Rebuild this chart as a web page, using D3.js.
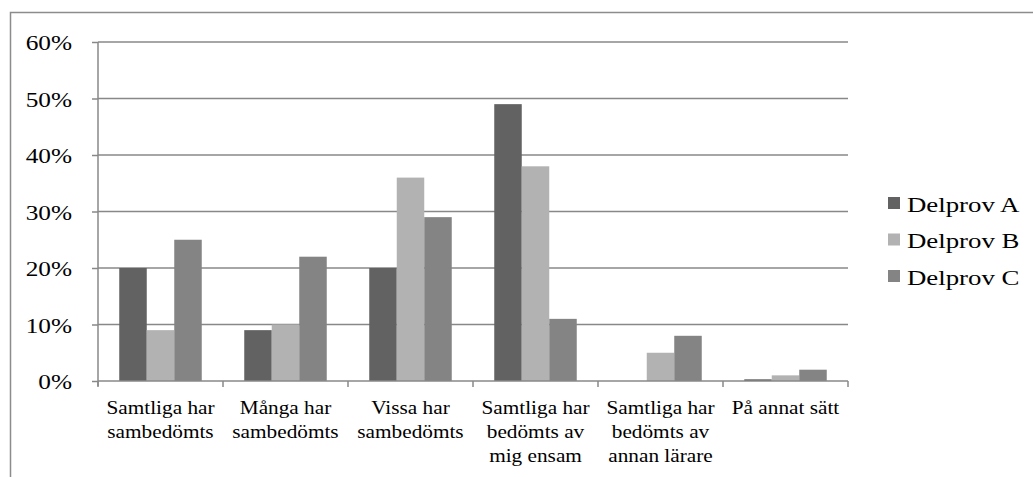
<!DOCTYPE html>
<html>
<head>
<meta charset="utf-8">
<script src="https://cdn.jsdelivr.net/npm/d3@7"></script>
<style>
  body { margin: 0; background: #fff; }
  svg text { font-family: "Liberation Serif", "DejaVu Serif", Tinos, "Times New Roman", Times, serif; fill: #000; }
</style>
</head>
<body>
<svg id="chart" width="1033" height="477"></svg>
<script>
// chart data
const categories = [
  ["Samtliga  har", "sambedömts"],
  ["Många har", "sambedömts"],
  ["Vissa har", "sambedömts"],
  ["Samtliga har", "bedömts av", "mig ensam"],
  ["Samtliga har", "bedömts av", "annan lärare"],
  ["På annat sätt"]
];
const series = ["Delprov A", "Delprov B", "Delprov C"];
const delprovA = [20, 9, 20, 49, 0, 0.3];
const delprovB = [9, 10, 36, 38, 5, 1];
const delprovC = [25, 22, 29, 11, 8, 2];
const yTicks = [0, 10, 20, 30, 40, 50, 60];
const colors = ["#626262", "#b2b2b2", "#848484"];

const values = [delprovA, delprovB, delprovC];
const serifFont = "'Liberation Serif', 'DejaVu Serif', Tinos, 'Times New Roman', Times, serif";

let svg = d3.select("#chart");

// outer frame (right and bottom edges fall outside the picture)
svg.append("rect")
  .attr("x", 10.5).attr("y", 12.5)
  .attr("width", 1040).attr("height", 500)
  .attr("fill", "none")
  .attr("stroke", "#8c8c8c")
  .attr("stroke-width", 1.5);

const plot = { left: 98, right: 848, top: 42, bottom: 381 };

let xScale = d3.scaleBand()
  .domain(d3.range(categories.length))
  .range([plot.left, plot.right])
  .paddingInner(0.34)
  .paddingOuter(0.17);

let xSub = d3.scaleBand()
  .domain(d3.range(series.length))
  .range([0, xScale.bandwidth()]);

let yScale = d3.scaleLinear()
  .domain([0, 60])
  .range([plot.bottom, plot.top]);

// gridlines
svg.append("g")
  .selectAll("line")
  .data(yTicks.filter(d => d > 0))
  .enter()
  .append("line")
  .attr("x1", plot.left).attr("x2", plot.right)
  .attr("y1", d => yScale(d)).attr("y2", d => yScale(d))
  .attr("stroke", "#888")
  .attr("stroke-width", 1.5);

// bars
let groups = svg.append("g")
  .selectAll("g")
  .data(categories.map((c, i) => i))
  .enter()
  .append("g")
  .attr("transform", i => "translate(" + xScale(i) + ",0)");

groups.selectAll("rect")
  .data(i => values.map((v, s) => ({ s: s, v: v[i] })))
  .enter()
  .append("rect")
  .attr("x", d => xSub(d.s))
  .attr("width", xSub.bandwidth())
  .attr("y", d => yScale(d.v))
  .attr("height", d => plot.bottom - yScale(d.v))
  .attr("fill", d => colors[d.s]);

// y axis
let yAxis = d3.axisLeft(yScale)
  .tickValues(yTicks)
  .tickSize(6)
  .tickFormat(d => d + "%");

let yg = svg.append("g")
  .attr("transform", "translate(" + plot.left + ",0)")
  .call(yAxis)
  .attr("font-family", serifFont);
yg.select(".domain").attr("stroke", "#888").attr("stroke-width", 1.5)
  .attr("d", "M0," + plot.top + "V" + (plot.bottom + 5));
yg.selectAll(".tick line").attr("stroke", "#888").attr("stroke-width", 1.5);
// the original is stretched a little sideways, so widen the text to match
yg.selectAll(".tick text")
  .attr("x", 0)
  .attr("dy", "0.35em")
  .attr("transform", "translate(-26,0) scale(1.15,1)")
  .attr("font-size", "22px")
  .style("font-family", serifFont);

// x axis line with category boundary ticks
let boundaries = d3.range(categories.length + 1)
  .map(i => plot.left + i * xScale.step());

svg.append("line")
  .attr("x1", plot.left).attr("x2", plot.right)
  .attr("y1", plot.bottom).attr("y2", plot.bottom)
  .attr("stroke", "#888").attr("stroke-width", 1.5);

svg.append("g")
  .selectAll("line")
  .data(boundaries)
  .enter()
  .append("line")
  .attr("x1", d => d).attr("x2", d => d)
  .attr("y1", plot.bottom).attr("y2", plot.bottom + 6)
  .attr("stroke", "#888").attr("stroke-width", 1.5);

// category labels
let labels = svg.append("g")
  .selectAll("text")
  .data(categories)
  .enter()
  .append("text")
  .attr("text-anchor", "middle")
  .attr("font-size", "19px")
  .style("font-family", serifFont)
  .attr("transform", (d, i) => "translate(" + (xScale(i) + xScale.bandwidth() / 2) + ",414) scale(1.12,1)")
  .attr("x", 0)
  .attr("y", 0);

labels.selectAll("tspan")
  .data(d => d)
  .enter()
  .append("tspan")
  .attr("x", 0)
  .attr("dy", (d, i) => i === 0 ? 0 : 24)
  .text(d => d);

// legend
let legend = svg.append("g")
  .selectAll("g")
  .data(series)
  .enter()
  .append("g")
  .attr("transform", (d, i) => "translate(888," + (204 + i * 36.5) + ")");

legend.append("rect")
  .attr("x", 0).attr("y", -7)
  .attr("width", 12).attr("height", 12)
  .attr("fill", (d, i) => colors[i]);

legend.append("text")
  .attr("transform", "translate(19,0) scale(1.22,1)")
  .attr("x", 0)
  .attr("y", 0)
  .attr("dy", "0.35em")
  .attr("font-size", "22px")
  .style("font-family", serifFont)
  .text(d => d);
</script>
</body>
</html>
